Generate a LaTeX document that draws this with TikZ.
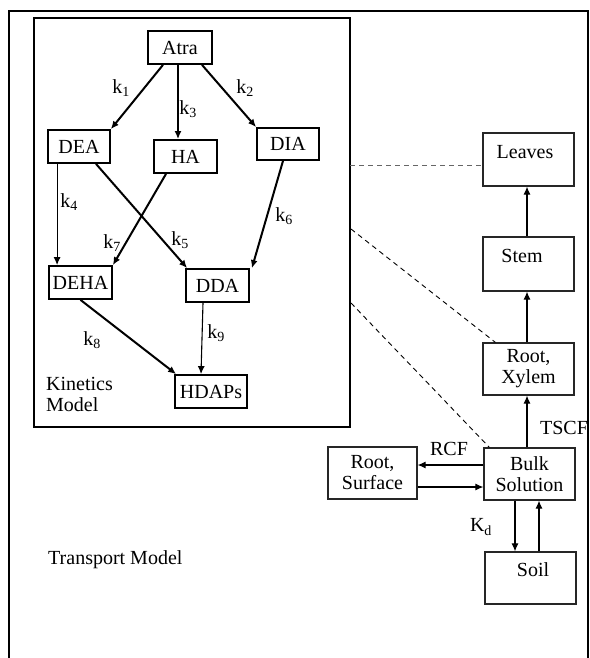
\documentclass[tikz,border=0pt]{standalone}
\usepackage{fontspec}
\setmainfont{Liberation Serif}
\usetikzlibrary{arrows.meta}
\begin{document}
\begin{tikzpicture}[x=1pt,y=-1pt,
  every node/.style={font=\fontsize{20}{21}\selectfont},
  kbox/.style={draw, line width=1.8pt, inner sep=0pt},
  tbox/.style={draw=black!85, line width=1.2pt, inner sep=0pt},
  txt/.style={inner sep=0pt, align=center},
  karr/.style={line width=2pt, -{Latex[length=8pt,width=7pt]}},
  tarr/.style={line width=1.1pt, -{Latex[length=8pt,width=7pt]}},
  dline/.style={dash pattern=on 5pt off 4pt, line width=0.9pt}
]
\useasboundingbox (0,0) rectangle (589,658);
% outer frame (open at the bottom)
\draw[line width=2.4pt] (9,662) -- (9,11) -- (588,11) -- (588,662);
% kinetics model box
\node[draw, line width=2pt, minimum width=316pt, minimum height=409pt, inner sep=0pt] (kin) at (192,222.5) {};

% kinetics species
\node[kbox, minimum width=64pt, minimum height=33pt] (atra) at (180,47.5) {Atra};
\node[kbox, minimum width=62pt, minimum height=33pt] (dea) at (79,146.5) {DEA};
\node[kbox, minimum width=63pt, minimum height=33pt] (ha) at (185.5,156.5) {HA};
\node[kbox, minimum width=62pt, minimum height=32pt] (dia) at (288,144) {DIA};
\node[kbox, minimum width=63pt, minimum height=33pt] (deha) at (80.5,282.5) {DEHA};
\node[kbox, minimum width=63pt, minimum height=33pt] (dda) at (217.5,285.5) {DDA};
\node[kbox, minimum width=72pt, minimum height=33pt] (hdaps) at (211,391.5) {HDAPs};

% kinetics arrows
\draw[karr] ([xshift=-17pt]atra.south) -- (dea.north east);
\draw[karr] ([xshift=-2pt]atra.south) -- ([xshift=-7.5pt]ha.north);
\draw[karr] ([xshift=22pt]atra.south) -- (dia.north west);
\draw[tarr] ([xshift=10pt]dea.south west) -- ([xshift=9pt]deha.north west);
\draw[karr] ([xshift=17pt]dea.south) -- ([xshift=2pt]dda.north west);
\draw[karr] ([xshift=-19.5pt]ha.south) -- (deha.north east);
\draw[karr] ([xshift=-5pt]dia.south) -- ([xshift=2pt]dda.north east);
\draw[karr] (deha.south) -- ([xshift=2pt]hdaps.north west);
\draw[tarr] ([xshift=-14.5pt]dda.south) -- ([xshift=-10pt]hdaps.north);

% rate labels
\node[txt] (k1) at (121,88) {k\textsubscript{1}};
\node[txt] (k3) at (188,109) {k\textsubscript{3}};
\node[txt] (k2) at (245,88) {k\textsubscript{2}};
\node[txt] (k4) at (69,202) {k\textsubscript{4}};
\node[txt] (k7) at (112,243) {k\textsubscript{7}};
\node[txt] (k5) at (180,240) {k\textsubscript{5}};
\node[txt] (k6) at (284,216) {k\textsubscript{6}};
\node[txt] (k8) at (92,340) {k\textsubscript{8}};
\node[txt] (k9) at (216,333) {k\textsubscript{9}};

\node[txt, align=left, anchor=west] (kinlabel) at (46,394) {Kinetics\\Model};
\node[txt, anchor=west] (translabel) at (48,560) {Transport Model};

% transport boxes
\node[tbox, minimum width=91pt, minimum height=53pt] (leaves) at (528.5,159.5) {};
\node[txt] (leavest) at (525,152) {Leaves};
\node[tbox, minimum width=91pt, minimum height=54pt] (stem) at (528.5,264) {};
\node[txt] (stemt) at (522,256) {Stem};
\node[tbox, minimum width=91pt, minimum height=52pt, align=center] (xylem) at (528.5,369) {Root,\\Xylem};
\node[tbox, minimum width=91pt, minimum height=52pt, align=center] (bulk) at (529.5,474) {Bulk\\Solution};
\node[tbox, minimum width=89pt, minimum height=52pt, align=center] (rsurf) at (372.5,473) {Root,\\Surface};
\node[tbox, minimum width=91pt, minimum height=52pt] (soil) at (530.5,578) {};
\node[txt] (soilt) at (533,570) {Soil};

% transport arrows
\draw[tarr] ([xshift=-1.5pt]stem.north) -- ([xshift=-1.5pt]leaves.south);
\draw[tarr] ([xshift=-1.5pt]xylem.north) -- ([xshift=-1.5pt]stem.south);
\draw[tarr] ([xshift=-2.5pt]bulk.north) -- ([xshift=-1.5pt]xylem.south);
\draw[tarr] ([yshift=9pt]bulk.west) -- ([yshift=8pt]rsurf.east);
\draw[tarr] ([yshift=-14pt]rsurf.east) -- ([yshift=-13pt]bulk.west);
\draw[tarr] ([xshift=-14.5pt]bulk.south) -- ([xshift=-15.5pt]soil.north);
\draw[tarr] ([xshift=8.5pt]soil.north) -- ([xshift=9.5pt]bulk.south);

\node[txt] (tscf) at (564,428) {TSCF};
\node[txt] (rcf) at (449,449) {RCF};
\node[txt] (kd) at (481,527) {K\textsubscript{d}};

% dashed links
\coordinate (d1) at (350,165);
\coordinate (d2) at (351,229);
\coordinate (d3) at (351,303);
\draw[dline, draw=black!60] (d1) -- (leaves.west |- d1);
\draw[dline] (d2) -- ([xshift=13pt]xylem.north west);
\draw[dline] (d3) -- ([xshift=6pt]bulk.north west);
\end{tikzpicture}
\end{document}
